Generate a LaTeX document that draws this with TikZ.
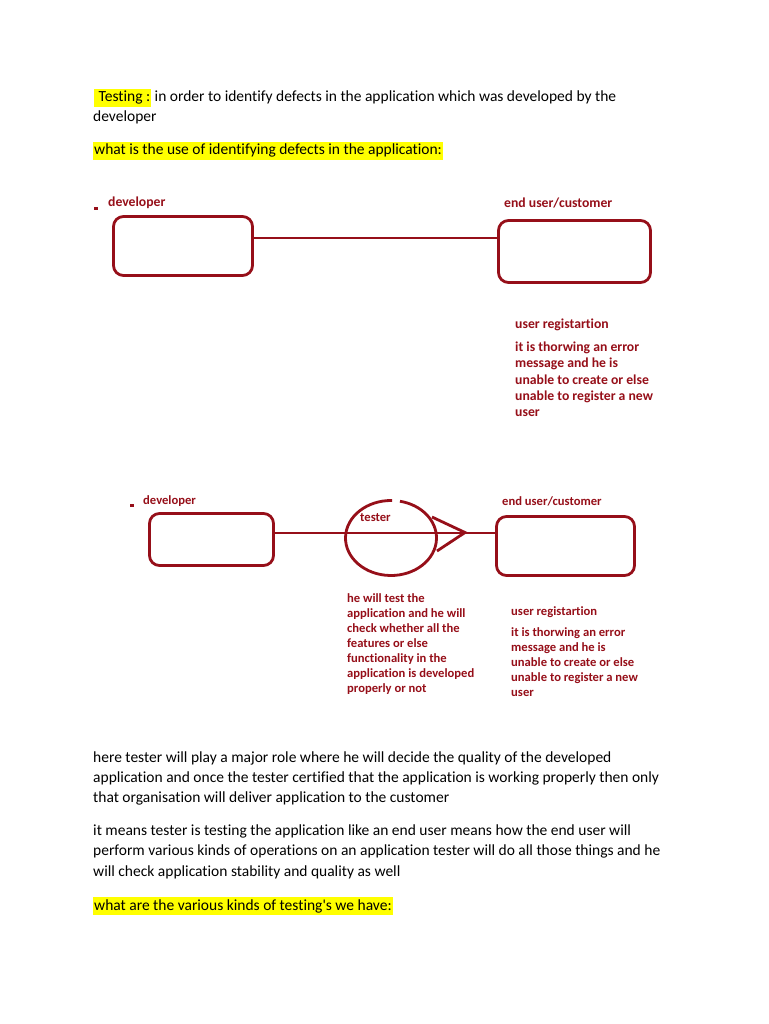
\documentclass[tikz,border=0pt]{standalone}
\usepackage{fontspec}
\setmainfont[Ligatures=NoCommon]{Carlito}
\definecolor{dred}{RGB}{150,15,25}
\definecolor{hl}{RGB}{255,255,0}
\begin{document}
\begin{tikzpicture}[x=1pt,y=-1pt,
  body/.style={anchor=base west,inner sep=0pt,font=\fontsize{15.5}{18}\selectfont,text=black},
  hlt/.style={body,fill=hl,inner xsep=1pt,text height=13pt,text depth=5pt},
  lbl/.style={anchor=base west,inner sep=0pt,font=\fontsize{13.7}{16}\selectfont\bfseries,text=dred},
  lbls/.style={anchor=base west,inner sep=0pt,font=\fontsize{12.6}{15}\selectfont\bfseries,text=dred},
  rbox/.style={draw=dred,line width=2.8pt,rounded corners=10pt,inner sep=0pt},
  conn/.style={draw=dred,line width=2.8pt},
  dashmark/.style={fill=dred,inner sep=0pt}]
\path[fill=white] (0,0) rectangle (768,1024);
\useasboundingbox (0,0) rectangle (768,1024);

% heading text
\node[hlt] (t1) at (94,102) {\ Testing :};
\node[body,anchor=base west] (t1b) at ([xshift=3pt]t1.base east) {in order to identify defects in the application which was developed by the};
\node[body] (t2) at (93,122) {developer};
\node[hlt] (t3) at (93,155) {what is the use of identifying defects in the application:};

% diagram 1
\node[dashmark,minimum width=4pt,minimum height=3pt] (m1) at (96,208.5) {};
\node[lbl] (l1) at (108,206.5) {developer};
\node[lbl] (l2) at (504,207.5) {end user/customer};
\node[rbox,minimum width=139pt,minimum height=59pt] (b1) at (183,246) {};
\node[rbox,minimum width=152pt,minimum height=62pt] (b2) at (574.5,251.5) {};
\draw[conn] ([yshift=8pt]b1.east) -- ([yshift=13.5pt]b2.west);
\node[lbl] (r1) at (515,328) {user registartion};
\node[lbl] (r2) at (515,351.5) {it is thorwing an error};
\node[lbl] (r3) at (515,367.7) {message and he is};
\node[lbl] (r4) at (515,384) {unable to create or else};
\node[lbl] (r5) at (515,400.2) {unable to register a new};
\node[lbl] (r6) at (515,416.5) {user};

% diagram 2
\node[dashmark,minimum width=4pt,minimum height=3pt] (m2) at (132,505.5) {};
\node[lbls] (k1) at (143,504) {developer};
\node[lbls] (k2) at (502,505) {end user/customer};
\node[rbox,minimum width=124pt,minimum height=52pt] (d1) at (211.5,539.5) {};
\node[rbox,minimum width=138pt,minimum height=59pt] (d2) at (565.5,546) {};
\coordinate (tc) at (391,538);
\draw[conn] ([shift={(88.7:45.5pt and 37.5pt)}]tc) arc[start angle=88.7,end angle=438.6,x radius=45.5pt,y radius=37.5pt];
\node[lbls] (tl) at (360,521.5) {tester};
\draw[conn] ([yshift=6.5pt]d1.east) -- ([yshift=13pt]d2.west);
\coordinate (tip) at (465,532.5);
\coordinate (arm1) at (432,517);
\coordinate (arm2) at (437,551);
\draw[conn] (arm1) -- (tip) -- (arm2);
\node[lbls] (p1) at (347,602) {he will test the};
\node[lbls] (p2) at (347,617) {application and he will};
\node[lbls] (p3) at (347,632) {check whether all the};
\node[lbls] (p4) at (347,647) {features or else};
\node[lbls] (p5) at (347,662) {functionality in the};
\node[lbls] (p6) at (347,677) {application is developed};
\node[lbls] (p7) at (347,692) {properly or not};
\node[lbls] (q1) at (511,615) {user registartion};
\node[lbls] (q2) at (511,636) {it is thorwing an error};
\node[lbls] (q3) at (511,651) {message and he is};
\node[lbls] (q4) at (511,666) {unable to create or else};
\node[lbls] (q5) at (511,681) {unable to register a new};
\node[lbls] (q6) at (511,696) {user};

% body text
\node[body] (s1) at (93,762) {here tester will play a major role where he will decide the quality of the developed};
\node[body] (s2) at (93,782) {application and once the tester certified that the application is working properly then only};
\node[body] (s3) at (93,802) {that organisation will deliver application to the customer};
\node[body] (s4) at (93,835) {it means tester is testing the application like an end user means how the end user will};
\node[body] (s5) at (93,855.5) {perform various kinds of operations on an application tester will do all those things and he};
\node[body] (s6) at (93,876) {will check application stability and quality as well};
\node[hlt] (s7) at (93,910) {what are the various kinds of testing\textquotesingle s we have:};
\end{tikzpicture}
\end{document}
